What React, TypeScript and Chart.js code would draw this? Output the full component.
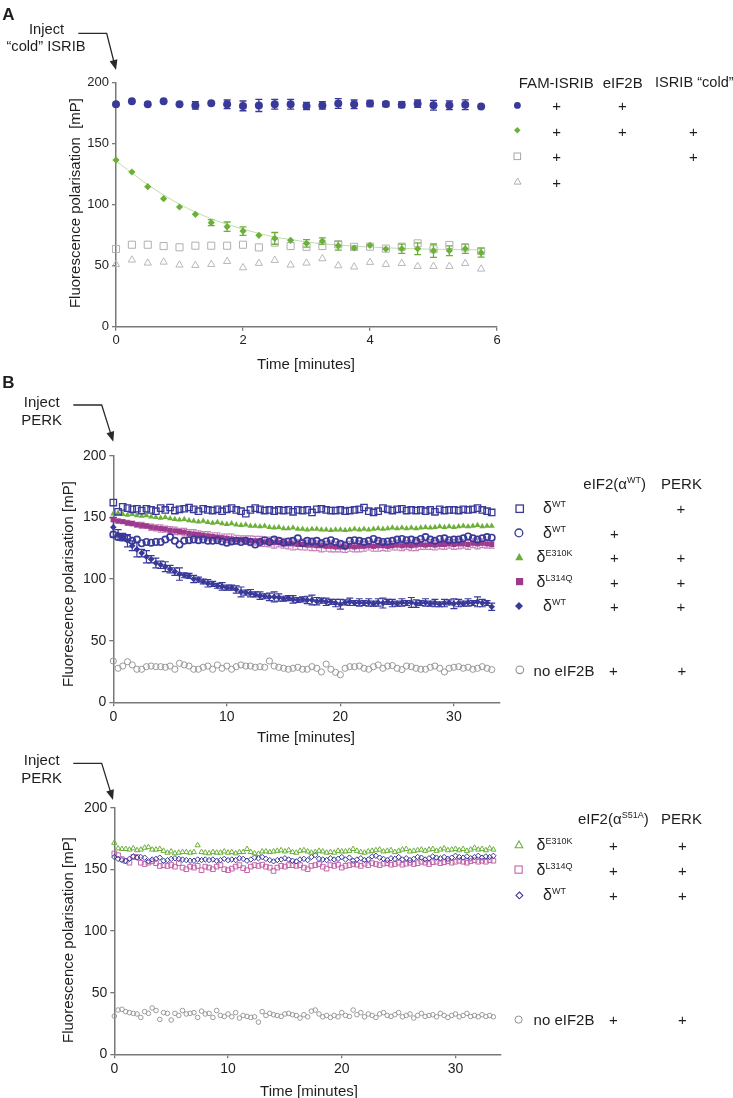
import React, { useEffect, useRef } from 'react';
import { Chart, registerables } from 'chart.js';
Chart.register(...registerables);

const FONT = '"Liberation Sans", Arial, Helvetica, sans-serif';
const NAVY = '#39399a';
const GREEN = '#6cb03a';
const MAGENTA = '#9c3b8e';
const PINK = '#c463ab';
const GRAY = '#a6a6a6';
const AXIS = '#787878';
const INK = '#1e1e1e';

// ---------- Panel A (time in minutes) ----------
const tA = [0, 0.25, 0.5, 0.75, 1, 1.25, 1.5, 1.75, 2, 2.25, 2.5, 2.75, 3, 3.25, 3.5, 3.75, 4, 4.25, 4.5, 4.75, 5, 5.25, 5.5, 5.75];
const famEif2bA = [182.3, 184.7, 182.3, 184.7, 182.3, 181.4, 183.1, 182.3, 181, 181.4, 182.3, 182.3, 180.9, 181.4, 183, 182.3, 183, 182.5, 182, 182.8, 181.5, 181.5, 182, 180.5];
const famEif2bErrA = [0, 0, 0, 0, 0, 3, 0, 3.5, 4, 5, 4, 4, 3, 3, 4, 3.5, 2.5, 2, 2.5, 3, 4, 3.5, 4, 0];
const famEif2bColdA = [136.6, 126.8, 114.8, 104.9, 98.1, 92.1, 85.3, 82, 78.4, 74.9, 72.4, 70.8, 68.3, 70.2, 66.4, 64.5, 66.7, 63.7, 63.9, 63.9, 62.3, 62.3, 63.9, 60.7];
const famEif2bColdErrA = [0, 0, 0, 0, 0, 0, 2.5, 3.8, 3.5, 0, 4.8, 0, 3, 2.6, 3.7, 1.8, 0, 0, 3.8, 4.8, 5.5, 4, 3.8, 3.7];
const fitA = [136, 126, 116.5, 108, 100.5, 94, 88.5, 84, 80, 76.5, 73.5, 71.5, 69.5, 68, 67, 66, 65.3, 64.7, 64.2, 63.8, 63.5, 63.3, 63.1, 63];
const famColdA = [63.7, 67.2, 67.2, 66.1, 65.1, 66.4, 66.4, 66.4, 67.2, 65, 68.9, 66.1, 65.5, 66.1, 67.5, 65.5, 65.6, 64, 65.6, 68.3, 63.5, 67, 65, 62];
const famOnlyA = [51.1, 54.7, 52.2, 53, 50.6, 50.3, 51.1, 53.5, 48.4, 52, 54.4, 50.6, 52.2, 55.8, 50, 49, 52.8, 51.1, 51.9, 49.5, 49.5, 49.5, 51.9, 47.3];

// ---------- Panel B ----------
const tB = [
  0, 0.42, 0.83, 1.25, 1.67, 2.08, 2.5, 2.92, 3.33, 3.75,
  4.17, 4.58, 5, 5.42, 5.83, 6.25, 6.67, 7.08, 7.5, 7.92,
  8.33, 8.75, 9.17, 9.58, 10, 10.42, 10.83, 11.25, 11.67, 12.08,
  12.5, 12.92, 13.33, 13.75, 14.17, 14.58, 15, 15.42, 15.83, 16.25,
  16.67, 17.08, 17.5, 17.92, 18.33, 18.75, 19.17, 19.58, 20, 20.42,
  20.83, 21.25, 21.67, 22.08, 22.5, 22.92, 23.33, 23.75, 24.17, 24.58,
  25, 25.42, 25.83, 26.25, 26.67, 27.08, 27.5, 27.92, 28.33, 28.75,
  29.17, 29.58, 30, 30.42, 30.83, 31.25, 31.67, 32.08, 32.5, 32.92,
  33.33,
];
const wtPerkB = [
  162, 154.5, 158.5, 157.5, 156.5, 157, 155.5, 157, 156, 155,
  157.5, 156, 158, 155.5, 156.5, 157, 158, 156.5, 155, 157,
  156, 155.5, 156.5, 155, 156.5, 157.5, 156, 155, 153, 156,
  157.5, 156.5, 155.5, 156, 155, 156, 155.5, 156, 154.5, 156,
  155.5, 156, 154, 156.5, 157, 156, 155.5, 155.5, 156, 155,
  155.5, 156, 156.5, 158, 155, 154, 155, 157.5, 156.5, 155.5,
  156.5, 157, 155.5, 156, 155.5, 156, 155, 156, 154.5, 156.5,
  155.5, 156, 156, 155.5, 156.5, 156, 156.5, 157.5, 156, 155,
  154,
];
const wtEif2B = [
  136, 134, 134, 133, 131, 132, 129, 130, 129.5, 130,
  130, 132, 134, 131, 128, 131, 131.5, 132, 131.5, 132,
  131, 131, 131.5, 130.5, 129.5, 130.5, 131, 130, 131, 130,
  128, 130, 131.5, 130, 132, 131, 129.5, 130.5, 131, 133,
  129, 131, 130.5, 131, 129, 130.5, 131.5, 130, 128.5, 127,
  131, 131.5, 131, 130, 131, 132.5, 131, 130, 130.5, 131,
  132, 132.5, 131.5, 132, 131, 132.5, 134, 132, 131, 132.5,
  133, 131.5, 132, 132, 133, 134.5, 133, 132, 133, 134,
  133.5,
];
const e310kB = [
  153, 153.5, 152.5, 152, 152.5, 151.5, 151, 151.5, 150.5, 150,
  149.5, 150, 149, 148.5, 148, 148.5, 147.5, 147, 146.5, 147,
  146, 145.5, 146, 145, 144.5, 145, 144, 143.5, 144, 143,
  143, 142.5, 143, 142, 141.5, 142, 141, 141, 141.5, 140.5,
  140.5, 140, 140.5, 140.5, 140, 140, 139.5, 140, 140, 139.5,
  140, 140.5, 140, 140.5, 140, 140.5, 141, 140.5, 141, 141.5,
  141, 141.5, 141, 141.5, 141, 141.5, 142, 141.5, 142, 142.5,
  142, 142.5, 142, 142.5, 143, 142.5, 143, 143.5, 142.5, 143,
  143,
];
const l314qB = [
  148, 147, 146.5, 145.5, 145, 144, 143.5, 143, 142, 141.5,
  141, 140.5, 139.5, 139, 138.5, 138, 137, 136.5, 136, 135.5,
  135, 134.5, 134, 133.5, 133, 132.5, 132, 132, 131.5, 131,
  131, 130.5, 130, 130, 129.5, 129.5, 129, 128.5, 128.5, 128,
  128, 127.5, 127.5, 127, 127, 126.5, 126.5, 126, 126, 126,
  126.5, 126, 126.5, 126.5, 127, 126.5, 127, 127, 126.5, 127,
  127.5, 127, 127.5, 127, 127.5, 128, 127.5, 128, 127.5, 128,
  128, 128.5, 128, 128.5, 128.5, 128, 129, 128.5, 129, 128.5,
  128,
];
const l314qErrB = [
  1, 1.5, 1.5, 2, 2, 2, 2.5, 2, 2.5, 2.5,
  3, 2.5, 3, 3, 2.5, 3, 3, 3.5, 3, 3,
  3.5, 3, 3.5, 3, 3.5, 4, 3.5, 3, 3.5, 4,
  3.5, 4, 3.5, 4, 4.5, 3.5, 4, 4, 5, 4,
  4.5, 4, 4.5, 4, 5, 4, 4.5, 4, 4, 4.5,
  4, 4, 4.5, 4, 3.5, 4, 4.5, 4, 4, 3.5,
  4, 4, 3.5, 4, 4.5, 4, 3.5, 4, 4, 3.5,
  4, 3.5, 4, 4, 3.5, 4, 3.5, 4, 3.5, 3.5,
  3,
];
const wtBothB = [
  142, 136, 134, 131, 127, 124, 121, 118, 116, 113,
  111.5, 110, 108, 106, 104, 103, 102.5, 100, 99.5, 98,
  96.5, 96, 94.5, 94, 93, 93, 91.5, 89.5, 89, 88.5,
  87.5, 86.5, 86, 85.5, 85.5, 85, 84, 84.5, 83.5, 83,
  83.5, 83, 83, 82, 82.5, 81.5, 81.5, 80.5, 79.5, 81,
  81.5, 80.5, 81, 80.5, 81, 80, 81, 80.5, 81.5, 80.5,
  80, 81, 80.5, 81, 80, 80.5, 81, 80, 80.5, 79.5,
  80.5, 81, 80, 80.5, 80, 81, 80.5, 81.5, 80.5, 80.5,
  77.5,
];
const wtBothErrB = [
  8, 4, 3, 5, 4, 6, 3, 5, 3, 4,
  3, 4, 3, 3, 5, 2, 2, 3, 2, 2,
  3, 2, 2, 3, 2, 2, 3, 4, 2, 3,
  2, 3, 2, 3, 4, 3, 2, 2, 3, 2,
  2, 3, 4, 3, 2, 3, 2, 3, 4, 2,
  3, 2, 3, 2, 3, 2, 3, 4, 2, 3,
  2, 3, 2, 4, 3, 2, 3, 2, 3, 2,
  3, 2, 4, 3, 2, 3, 2, 4, 3, 2,
  3,
];
const noEif2bB = [
  33.5, 27.6, 29.4, 32.9, 30.3, 26.8, 26.8, 28.9, 29.4, 28.9,
  28.9, 28.4, 29.4, 26.8, 31.6, 30.3, 29.4, 26.8, 26.8, 28.4,
  29.4, 26.8, 30.3, 27.6, 29.4, 26.8, 28.9, 30.3, 29.4, 29.4,
  28.4, 28.9, 28.4, 33.5, 29.4, 28.4, 27.6, 26.8, 27.6, 28.4,
  26.8, 26.8, 28.9, 27.6, 24.6, 31, 26.8, 24.3, 22.4, 27.6,
  28.9, 28.9, 29.4, 27.6, 26.8, 28.9, 30.3, 27.6, 29.4, 29.8,
  27.6, 26.5, 29.4, 28.9, 27.6, 26.8, 26.8, 28.4, 29.4, 27.6,
  24.6, 27.6, 28.4, 28.9, 27.6, 28.4, 26.8, 27.6, 28.9, 27.6,
  26.5,
];

// ---------- Panel C ----------
const tC = [
  0, 0.33, 0.67, 1, 1.33, 1.67, 2, 2.33, 2.67, 3,
  3.33, 3.67, 4, 4.33, 4.67, 5, 5.33, 5.67, 6, 6.33,
  6.67, 7, 7.33, 7.67, 8, 8.33, 8.67, 9, 9.33, 9.67,
  10, 10.33, 10.67, 11, 11.33, 11.67, 12, 12.33, 12.67, 13,
  13.33, 13.67, 14, 14.33, 14.67, 15, 15.33, 15.67, 16, 16.33,
  16.67, 17, 17.33, 17.67, 18, 18.33, 18.67, 19, 19.33, 19.67,
  20, 20.33, 20.67, 21, 21.33, 21.67, 22, 22.33, 22.67, 23,
  23.33, 23.67, 24, 24.33, 24.67, 25, 25.33, 25.67, 26, 26.33,
  26.67, 27, 27.33, 27.67, 28, 28.33, 28.67, 29, 29.33, 29.67,
  30, 30.33, 30.67, 31, 31.33, 31.67, 32, 32.33, 32.67, 33,
  33.33,
];
const e310kC = [
  171.5, 167, 166.5, 166.5, 166, 167, 165.5, 166, 167.5, 168,
  166, 166, 166.5, 165, 163.5, 164.5, 163, 163.5, 164, 164,
  163.5, 164, 169.5, 164, 163.5, 163, 164, 163.5, 163.5, 164.5,
  163.5, 164, 163, 164, 164, 166.5, 164, 163, 162.5, 164.5,
  164.5, 164, 164.5, 165, 165.5, 164.5, 165.5, 164, 163.5, 165,
  165.5, 164.5, 163.5, 164, 165, 164.5, 163.5, 164, 163.5, 165,
  164.5, 164.5, 165, 166.5, 165, 164, 163.5, 164.5, 165, 165.5,
  166, 164.5, 165, 165.5, 164, 165, 166, 166.5, 164.5, 165,
  165.5, 166, 165, 166, 166.5, 165, 166, 167, 165.5, 166,
  166.5, 165.5, 166.5, 165, 166, 167.5, 166, 166.5, 165.5, 167,
  166,
];
const l314qC = [
  162.9, 161.5, 158.3, 156.7, 155.4, 160, 160, 155.4, 154.3, 155.4,
  156.5, 155, 152.7, 153.4, 152.7, 153.5, 152.2, 155, 151.4, 150.1,
  152.2, 151.4, 152.8, 149.3, 152.2, 151.4, 150.1, 152.2, 153.4, 150.1,
  149.3, 150.6, 152.2, 153.4, 151, 149.3, 152.2, 153.4, 152.8, 153.8,
  152.2, 151.4, 148.7, 151.4, 152.8, 152.2, 153.4, 153.4, 152.8, 153.4,
  151.4, 150.1, 152.8, 153.4, 154.3, 152.2, 150.6, 153.4, 152.8, 153.8,
  151.4, 152.8, 153.4, 154.3, 153.8, 152.8, 154.6, 153.4, 155, 154.3,
  153.4, 154.6, 155, 153.8, 154.3, 155.4, 153.8, 154.6, 155.4, 154.3,
  155, 156.2, 155.4, 154.3, 155.8, 156.2, 155, 155.8, 156.7, 155.4,
  156.2, 157, 156.2, 155.4, 156.7, 157.4, 156.2, 157, 156.2, 157.4,
  157,
];
const wtC = [
  160, 158.5, 157.5, 157, 158.5, 160.5, 159.5, 160, 159.5, 156.5,
  158, 158.5, 159.5, 157, 157.5, 158.5, 159, 158.5, 158, 157.5,
  157, 157, 158, 157.5, 158, 157.5, 158, 157, 157.5, 158.5,
  157.5, 158, 157.5, 159, 158.5, 157, 158, 159.5, 159, 160,
  158.5, 157.5, 156.5, 157.5, 158, 159, 158, 157, 156.5, 158,
  158.5, 157.5, 160, 161.5, 158.5, 158, 157.5, 159, 158, 158.5,
  160, 158, 159.5, 157, 158, 159, 157.5, 158, 160.5, 161,
  159.5, 158.5, 157.5, 159, 158.5, 160, 158, 159, 157.5, 158.5,
  160, 159.5, 158, 159, 160.5, 159.5, 159, 160, 158.5, 159.5,
  161, 160, 159.5, 160.5, 159, 160, 161, 159.5, 160.5, 160,
  161,
];
const noEif2bC = [
  31, 35.9, 36.5, 34.6, 33.8, 33.2, 32.7, 29.9, 34.6, 33.2,
  37.6, 35.5, 28.3, 33.8, 33.2, 27.8, 33.2, 31.5, 35.5, 32.7,
  33.2, 33.8, 29.9, 35, 32.7, 33.2, 29.9, 35.5, 31.5, 30.7,
  32.7, 30.4, 33.8, 29.4, 31.5, 30.7, 29.9, 30.4, 26.1, 34.6,
  31.5, 33.2, 32.1, 31.5, 30.7, 32.7, 33.2, 32.1, 31.5, 29.4,
  32.1, 30.4, 35, 35.9, 32.7, 30.4, 31.5, 29.9, 31.5, 30.4,
  33.8, 31.5, 30.7, 35.9, 32.1, 33.8, 30.4, 32.7, 31.5, 29.9,
  32.7, 33.8, 31.5, 30.7, 32.1, 33.8, 30.4, 31.5, 32.7, 29.4,
  31.5, 33.2, 30.7, 31.5, 32.1, 30.4, 33.2, 31.5, 29.9, 31.5,
  32.7, 30.4, 31.5, 33.2, 30.7, 31.5, 30.4, 32.1, 30.7, 31.5,
  30.4,
];

const yTicks = [0, 50, 100, 150, 200];

// ---------- helpers ----------
const pts = (t: number[], v: number[]) => t.map((x, i) => ({ x, y: v[i] }));

type ErrSet = { index: number; errors: number[]; color: string; width: number; cap: number };

function makeErrorPlugin(sets: ErrSet[]) {
  return {
    id: 'errorBars',
    beforeDatasetsDraw(chart: any) {
      const { ctx } = chart;
      const xs = chart.scales.x;
      const ys = chart.scales.y;
      ctx.save();
      for (const s of sets) {
        const ds = chart.data.datasets[s.index];
        ctx.strokeStyle = s.color;
        ctx.lineWidth = s.width;
        ds.data.forEach((p: any, i: number) => {
          const e = s.errors[i];
          if (!e) return;
          const x = xs.getPixelForValue(p.x);
          const y1 = ys.getPixelForValue(p.y + e);
          const y2 = ys.getPixelForValue(p.y - e);
          ctx.beginPath();
          ctx.moveTo(x, y1);
          ctx.lineTo(x, y2);
          ctx.moveTo(x - s.cap, y1);
          ctx.lineTo(x + s.cap, y1);
          ctx.moveTo(x - s.cap, y2);
          ctx.lineTo(x + s.cap, y2);
          ctx.stroke();
        });
      }
      ctx.restore();
    },
  };
}

type PanelCfg = {
  datasets: any[];
  errs: ErrSet[];
  xMax: number;
  xStep: number;
  tickSize: number;
  yWidth: number;
  xHeight: number;
  padTop: number;
  padRight: number;
};

function buildChart(canvas: HTMLCanvasElement, cfg: PanelCfg) {
  const grid = { display: true, drawOnChartArea: false, drawTicks: true, tickLength: 4, color: AXIS, lineWidth: 1.3 };
  const border = { display: true, color: AXIS, width: 1.5 };
  return new Chart(canvas, {
    type: 'scatter',
    data: { datasets: cfg.datasets },
    options: {
      animation: false,
      responsive: false,
      maintainAspectRatio: false,
      devicePixelRatio: 1,
      events: [],
      layout: { padding: { left: 0, top: cfg.padTop, right: cfg.padRight, bottom: 0 } },
      plugins: { legend: { display: false }, tooltip: { enabled: false }, title: { display: false } },
      scales: {
        x: {
          type: 'linear',
          min: 0,
          max: cfg.xMax,
          afterFit: (s: any) => { s.height = cfg.xHeight; },
          ticks: { stepSize: cfg.xStep, includeBounds: false, autoSkip: false, maxRotation: 0, padding: 2, color: INK, font: { family: FONT, size: cfg.tickSize } },
          grid,
          border,
        },
        y: {
          type: 'linear',
          min: yTicks[0],
          max: yTicks[yTicks.length - 1],
          afterFit: (s: any) => { s.width = cfg.yWidth; },
          ticks: { stepSize: yTicks[1] - yTicks[0], includeBounds: false, autoSkip: false, padding: 3, color: INK, font: { family: FONT, size: cfg.tickSize } },
          grid,
          border,
        },
      },
    } as any,
    plugins: [makeErrorPlugin(cfg.errs)],
  });
}

const NONE = 'rgba(0,0,0,0)';
const sc = (data: any[], style: string, r: number, color: string, filled: boolean, bw = 1) => ({
  data,
  showLine: false,
  clip: false,
  pointStyle: style,
  pointRadius: r,
  pointBackgroundColor: filled ? color : NONE,
  pointBorderColor: color,
  pointBorderWidth: filled ? 0 : bw,
});

// ---------- overlay text / marks ----------
const Txt = ({ x, y, size = 15, bold = false, align = 'center', children }: any) => (
  <div
    style={{
      position: 'absolute', left: x, top: y,
      transform: `translate(${align === 'center' ? '-50%' : align === 'right' ? '-100%' : '0'}, -50%)`,
      fontSize: size, lineHeight: 1, fontWeight: bold ? 700 : 400, whiteSpace: 'pre',
    }}
  >
    {children}
  </div>
);

const VTxt = ({ x, y, size = 15, children }: any) => (
  <div
    style={{
      position: 'absolute', left: x, top: y,
      transform: 'translate(-50%, -50%) rotate(-90deg)',
      fontSize: size, lineHeight: 1, whiteSpace: 'pre',
    }}
  >
    {children}
  </div>
);

const Sup = ({ children, size = 9, lift = 6 }: any) => (
  <span style={{ fontSize: size, position: 'relative', top: -lift }}>{children}</span>
);

const Delta = ({ x, y, sup }: any) => (
  <Txt x={x} y={y} size={16}>δ<Sup size={9} lift={6}>{sup}</Sup></Txt>
);

const Mk = ({ x, y, shape, color, filled, s = 4, sw = 1.2 }: any) => {
  const size = 2 * s + 6;
  const c = size / 2;
  const fill = filled ? color : 'none';
  const stroke = filled ? 'none' : color;
  let el: any = null;
  if (shape === 'circle') el = <circle cx={c} cy={c} r={s} fill={fill} stroke={stroke} strokeWidth={sw} />;
  if (shape === 'square') el = <rect x={c - s} y={c - s} width={2 * s} height={2 * s} fill={fill} stroke={stroke} strokeWidth={sw} />;
  if (shape === 'triangle') el = <polygon points={`${c},${c - s} ${c + s * 0.95},${c + s * 0.7} ${c - s * 0.95},${c + s * 0.7}`} fill={fill} stroke={stroke} strokeWidth={sw} />;
  if (shape === 'diamond') el = <polygon points={`${c},${c - s} ${c + s},${c} ${c},${c + s} ${c - s},${c}`} fill={fill} stroke={stroke} strokeWidth={sw} />;
  return (
    <svg width={size} height={size} style={{ position: 'absolute', left: x - c, top: y - c, overflow: 'visible' }}>
      {el}
    </svg>
  );
};

const arrows = [
  [[78.3, 33.3], [106.7, 33.3], [116, 70]],
  [[73.3, 405], [101.7, 405], [113.3, 441.7]],
  [[73.3, 763.3], [101.7, 763.3], [113, 800]],
];

function ArrowLayer() {
  return (
    <svg width={733} height={1098} style={{ position: 'absolute', left: 0, top: 0, pointerEvents: 'none' }}>
      {arrows.map((a, i) => {
        const [p0, p1, p2] = a;
        const dx = p2[0] - p1[0];
        const dy = p2[1] - p1[1];
        const len = Math.hypot(dx, dy);
        const ux = dx / len, uy = dy / len;
        const hl = 10, hw = 4;
        const bx = p2[0] - ux * hl, by = p2[1] - uy * hl;
        const px = -uy, py = ux;
        return (
          <g key={i}>
            <polyline points={`${p0[0]},${p0[1]} ${p1[0]},${p1[1]} ${bx + ux * 2},${by + uy * 2}`} fill="none" stroke="#2a2a2a" strokeWidth={1.3} />
            <polygon points={`${p2[0]},${p2[1]} ${bx + px * hw},${by + py * hw} ${bx - px * hw},${by - py * hw}`} fill="#2a2a2a" />
          </g>
        );
      })}
    </svg>
  );
}

export default function App() {
  const refA = useRef<HTMLCanvasElement>(null);
  const refB = useRef<HTMLCanvasElement>(null);
  const refC = useRef<HTMLCanvasElement>(null);

  useEffect(() => {
    const charts: Chart[] = [];
    if (refA.current) {
      charts.push(buildChart(refA.current, {
        datasets: [
          sc(pts(tA, famEif2bA), 'circle', 4, NAVY, true),
          sc(pts(tA, famEif2bColdA), 'rectRot', 3.6, GREEN, true),
          sc(pts(tA, famColdA), 'rect', 5, '#b0b0b0', false, 1),
          sc(pts(tA, famOnlyA), 'triangle', 4.2, '#b8b8b8', false, 1),
          { data: pts(tA, fitA), showLine: true, clip: false, pointRadius: 0, borderColor: '#bcdca6', borderWidth: 1, tension: 0.4 },
        ],
        errs: [
          { index: 0, errors: famEif2bErrA, color: NAVY, width: 1.3, cap: 3.5 },
          { index: 1, errors: famEif2bColdErrA, color: GREEN, width: 1.3, cap: 3.5 },
        ],
        xMax: 6, xStep: 2, tickSize: 13, yWidth: 116, xHeight: 33.3, padTop: 22.7, padRight: 23,
      }));
    }
    if (refB.current) {
      charts.push(buildChart(refB.current, {
        datasets: [
          sc(pts(tB, wtBothB), 'rectRot', 3.3, NAVY, true),
          sc(pts(tB, wtEif2B), 'circle', 3.2, NAVY, false, 1.6),
          sc(pts(tB, wtPerkB), 'rect', 4.5, NAVY, false, 1.3),
          sc(pts(tB, e310kB), 'triangle', 3.5, GREEN, true),
          sc(pts(tB, l314qB), 'rect', 3.6, MAGENTA, true),
          sc(pts(tB, noEif2bB), 'circle', 3.1, '#999999', false, 1),
        ],
        errs: [
          { index: 4, errors: l314qErrB, color: '#c784b9', width: 1.2, cap: 3 },
          { index: 0, errors: wtBothErrB, color: NAVY, width: 1.2, cap: 3.5 },
        ],
        xMax: 34, xStep: 10, tickSize: 14, yWidth: 113.3, xHeight: 27.7, padTop: 15.7, padRight: 20.7,
      }));
    }
    if (refC.current) {
      charts.push(buildChart(refC.current, {
        datasets: [
          sc(pts(tC, e310kC), 'triangle', 3, GREEN, false, 1),
          sc(pts(tC, wtC), 'rectRot', 2.7, NAVY, false, 1),
          sc(pts(tC, l314qC), 'rect', 3.3, PINK, false, 1),
          sc(pts(tC, noEif2bC), 'circle', 2.3, '#9a9a9a', false, 1),
        ],
        errs: [],
        xMax: 34, xStep: 10, tickSize: 14, yWidth: 114.3, xHeight: 25.7, padTop: 17.7, padRight: 19,
      }));
    }
    return () => charts.forEach((c) => c.destroy());
  }, []);

  const cv = (top: number, h: number) => ({ position: 'absolute' as const, left: 0, top, width: 520, height: h });
  const plusA = [
    [556.7, 105], [622.3, 105],
    [556.7, 130.7], [622.3, 130.7], [693.3, 130.7],
    [556.7, 156], [693.3, 156],
    [556.7, 181.7],
  ];
  const plusB = [
    [681, 508.3],
    [614.3, 532.7],
    [614.3, 557.3], [681, 557.3],
    [614.3, 581.7], [681, 581.7],
    [614.3, 606], [681, 606],
    [613.5, 670], [682, 670],
  ];
  const plusC = [
    [613.3, 845], [682.3, 845],
    [613.3, 870], [682.3, 870],
    [613.3, 895], [682.3, 895],
    [613.3, 1019.3], [682.3, 1019.3],
  ];

  return (
    <div style={{ position: 'absolute', left: 0, top: 0, width: 733, height: 1098, overflow: 'hidden', background: '#ffffff', fontFamily: FONT, color: INK }}>
      <canvas ref={refA} width={520} height={300} style={cv(60, 300)} />
      <canvas ref={refB} width={520} height={290} style={cv(440, 290)} />
      <canvas ref={refC} width={520} height={290} style={cv(790, 290)} />
      <ArrowLayer />

      {/* Panel A */}
      <Txt x={8.5} y={13.5} size={17} bold>A</Txt>
      <Txt x={46.5} y={28.5} size={14.7}>Inject</Txt>
      <Txt x={46} y={46.3} size={14.7}>“cold” ISRIB</Txt>
      <VTxt x={73.5} y={202.5} size={15}>{'Fluorescence polarisation  [mP]'}</VTxt>
      <Txt x={306} y={363} size={15}>Time [minutes]</Txt>
      <Txt x={556.3} y={82} size={15}>FAM-ISRIB</Txt>
      <Txt x={622.7} y={82} size={15}>eIF2B</Txt>
      <Txt x={655} y={82} size={14.6} align="left">ISRIB “cold”</Txt>
      <Mk x={517.3} y={105} shape="circle" color={NAVY} filled s={3.4} />
      <Mk x={517.3} y={130.7} shape="diamond" color={GREEN} filled s={3.3} />
      <Mk x={517.3} y={156} shape="square" color="#a8a8a8" s={3.3} sw={1} />
      <Mk x={517.3} y={181.7} shape="triangle" color="#b0b0b0" s={3.6} sw={1} />
      {plusA.map(([x, y], i) => <Txt key={'pa' + i} x={x} y={y} size={15}>+</Txt>)}

      {/* Panel B */}
      <Txt x={8.3} y={381.7} size={17} bold>B</Txt>
      <Txt x={41.7} y={401} size={15}>Inject</Txt>
      <Txt x={41.7} y={419} size={15}>PERK</Txt>
      <VTxt x={66.7} y={584} size={15}>Fluorescence polarisation [mP]</VTxt>
      <Txt x={306} y={735.7} size={15}>Time [minutes]</Txt>
      <Txt x={614.7} y={483.3} size={15}>eIF2(α<Sup size={9} lift={6}>WT</Sup>)</Txt>
      <Txt x={681.5} y={483.3} size={15}>PERK</Txt>
      <Mk x={519.3} y={508.3} shape="square" color={NAVY} s={3.7} sw={1.3} />
      <Mk x={519.3} y={532.7} shape="circle" color={NAVY} s={3.9} sw={1.3} />
      <Mk x={519.3} y={557.3} shape="triangle" color={GREEN} filled s={4.3} />
      <Mk x={519.3} y={581.7} shape="square" color={MAGENTA} filled s={3.6} />
      <Mk x={519.3} y={606} shape="diamond" color={NAVY} filled s={4} />
      <Mk x={519.3} y={670} shape="circle" color="#8f8f8f" s={3.8} sw={1.1} />
      <Delta x={554.5} y={508.3} sup="WT" />
      <Delta x={554.5} y={532.7} sup="WT" />
      <Delta x={554.5} y={557.3} sup="E310K" />
      <Delta x={554.5} y={581.7} sup="L314Q" />
      <Delta x={554.5} y={606} sup="WT" />
      <Txt x={564} y={670} size={15}>no eIF2B</Txt>
      {plusB.map(([x, y], i) => <Txt key={'pb' + i} x={x} y={y} size={15}>+</Txt>)}

      {/* Panel C */}
      <Txt x={41.7} y={759.3} size={15}>Inject</Txt>
      <Txt x={41.7} y={777.3} size={15}>PERK</Txt>
      <VTxt x={66.7} y={940} size={15}>Fluorescence polarisation [mP]</VTxt>
      <Txt x={309} y={1090} size={15}>Time [minutes]</Txt>
      <Txt x={613.3} y={818.3} size={15}>eIF2(α<Sup size={9} lift={6}>S51A</Sup>)</Txt>
      <Txt x={681.5} y={818.3} size={15}>PERK</Txt>
      <Mk x={519} y={845} shape="triangle" color={GREEN} s={4} sw={1.1} />
      <Mk x={519} y={870} shape="square" color={PINK} s={3.6} sw={1.1} />
      <Mk x={519} y={895} shape="diamond" color={NAVY} s={3.4} sw={1.1} />
      <Mk x={519} y={1019.3} shape="circle" color="#8f8f8f" s={3.6} sw={1} />
      <Delta x={554.5} y={845} sup="E310K" />
      <Delta x={554.5} y={870} sup="L314Q" />
      <Delta x={554.5} y={895} sup="WT" />
      <Txt x={564} y={1019.3} size={15}>no eIF2B</Txt>
      {plusC.map(([x, y], i) => <Txt key={'pc' + i} x={x} y={y} size={15}>+</Txt>)}
    </div>
  );
}
